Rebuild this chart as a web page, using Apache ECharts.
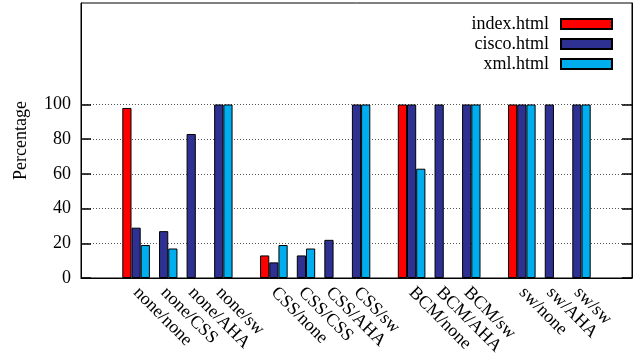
<!DOCTYPE html>
<html>
<head>
<meta charset="utf-8">
<script src="https://cdn.jsdelivr.net/npm/echarts@6/dist/echarts.min.js"></script>
<style>
  html, body { margin: 0; padding: 0; background: #fff; }
  #chart { width: 637px; height: 354px; }
</style>
</head>
<body>
<div id="chart"></div>
<script>
// Test cases per cluster; '' marks an empty slot separating the families
const categories = [
  'none/none', 'none/CSS', 'none/AHA', 'none/sw', '',
  'CSS/none', 'CSS/CSS', 'CSS/AHA', 'CSS/sw', '',
  'BCM/none', 'BCM/AHA', 'BCM/sw', '',
  'sw/none', 'sw/AHA', 'sw/sw'
];

// Percentage per page (null = no bar)
const indexHtml = [98, null, null, null, null, 13, null, null, null, null, 100, null, null, null, 100, null, null];
const ciscoHtml = [29, 27, 83, 100, null, 9, 13, 22, 100, null, 100, 100, 100, null, 100, 100, 100];
const xmlHtml   = [19, 17, null, 100, null, 19, 17, null, 100, null, 63, null, 100, null, 100, null, 100];

const seriesNames = ['index.html', 'cisco.html', 'xml.html'];
const seriesColors = ['#ff0000', '#2e3092', '#00adee'];
const yTicks = [0, 20, 40, 60, 80, 100];

// two empty slots on each side of the clusters
const pad = ['', ''];
const axisCats = pad.concat(categories, pad);
const padData = arr => [null, null].concat(arr, [null, null]);

const FONT = 'Liberation Serif';
const chart = echarts.init(document.getElementById('chart'), null, { renderer: 'canvas' });

const makeBar = (name, data, color) => ({
  name: name,
  type: 'bar',
  data: padData(data),
  barWidth: 9.2,
  barGap: '0%',
  itemStyle: { color: color, borderColor: '#000', borderWidth: 1 },
  z: 3
});

chart.setOption({
  animation: false,
  backgroundColor: '#fff',
  textStyle: { fontFamily: FONT },
  grid: {
    left: 81, right: 5, top: 3, bottom: 76,
    outerBoundsMode: 'none',
    containLabel: false,
    show: true, borderColor: '#000', borderWidth: 1, backgroundColor: 'transparent'
  },
  legend: {
    orient: 'vertical',
    right: 19,
    top: 9,
    align: 'right',
    icon: 'rect',
    itemWidth: 51,
    itemHeight: 10,
    itemGap: 0,
    selectedMode: false,
    data: seriesNames,
    textStyle: { fontFamily: FONT, fontSize: 18, color: '#000', lineHeight: 20, padding: [0, 7, 0, 0] }
  },
  xAxis: {
    type: 'category',
    data: axisCats,
    boundaryGap: false,
    axisLine: { show: true, lineStyle: { color: '#000', width: 1 } },
    axisTick: { show: false },
    splitLine: { show: false },
    axisLabel: {
      interval: 0,
      rotate: -45,
      margin: 12,
      hideOverlap: false,
      fontFamily: FONT,
      fontSize: 18,
      color: '#000'
    }
  },
  yAxis: [
    {
      type: 'value',
      min: 0,
      max: 158.5,
      interval: 20,
      position: 'left',
      name: 'Percentage',
      nameLocation: 'middle',
      nameGap: 51,
      nameTextStyle: { fontFamily: FONT, fontSize: 18, color: '#000' },
      axisLine: { show: true, lineStyle: { color: '#000', width: 1 } },
      axisTick: { show: true, inside: true, length: 10, customValues: yTicks, lineStyle: { color: '#000', width: 1.5 } },
      axisLabel: { customValues: yTicks, margin: 10, fontFamily: FONT, fontSize: 18, color: '#000' },
      splitLine: { show: true, lineStyle: { type: [1, 2], color: '#555', width: 1 } }
    },
    {
      type: 'value',
      min: 0,
      max: 158.5,
      interval: 20,
      position: 'right',
      axisLine: { show: true, lineStyle: { color: '#000', width: 1 } },
      axisTick: { show: true, inside: true, length: 10, customValues: yTicks, lineStyle: { color: '#000', width: 1.5 } },
      axisLabel: { show: false },
      splitLine: { show: false }
    }
  ],
  series: [
    makeBar(seriesNames[0], indexHtml, seriesColors[0]),
    makeBar(seriesNames[1], ciscoHtml, seriesColors[1]),
    makeBar(seriesNames[2], xmlHtml, seriesColors[2])
  ]
});
</script>
</body>
</html>
